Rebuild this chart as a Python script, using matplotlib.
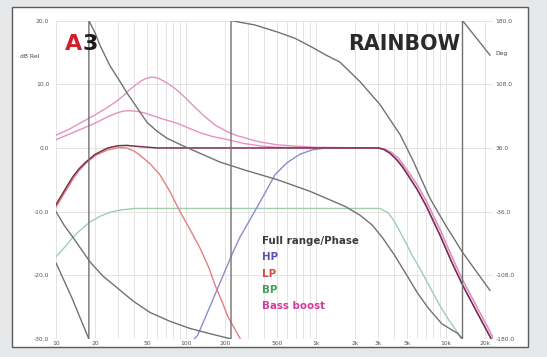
import matplotlib.pyplot as plt
from matplotlib.patches import Rectangle

W, H = 547, 357

# frequency response data (dB)
full_f = [10, 12, 13.5, 15, 17, 20, 25, 30, 35, 45, 60, 100, 300, 1000, 3000, 3300, 3700, 4200,
          4600, 5000, 6000, 7000, 9000, 11000, 13400, 17000, 21000, 23000]
full_db = [-8.9, -6.2, -4.5, -3.3, -2.2, -1.0, 0.0, 0.35, 0.4, 0.2, 0.0, 0.0, 0.0, 0.0, 0.0, -0.2,
           -0.8, -1.9, -2.9, -4.0, -6.5, -9.0, -13.7, -17.8, -21.5, -25.5, -29.0, -30.5]

lp_f = [10, 12, 13.5, 15, 17, 20, 25, 30, 35, 40, 44, 53, 63, 75, 90, 110, 128, 150, 167, 190, 210,
        240, 270]
lp_db = [-9.3, -6.6, -4.9, -3.6, -2.4, -1.2, -0.3, 0.05, 0.0, -0.5, -1.1, -2.5, -4.2, -6.8, -10.0,
         -13.2, -15.7, -18.8, -21.5, -24.2, -26.5, -28.6, -30.5]

hp_f = [105, 123, 150, 185, 225, 260, 300, 350, 400, 484, 600, 750, 935, 1200, 3000, 3300, 3700,
        4200, 4600, 5000, 6000, 7000, 9000, 11000, 13400, 17000, 21000, 23000]
hp_db = [-31.0, -29.4, -25.3, -20.9, -16.8, -14.0, -11.8, -9.4, -7.3, -4.2, -2.3, -1.0, -0.3, 0.0,
         0.0, -0.2, -0.8, -1.9, -2.9, -4.0, -6.5, -9.0, -13.7, -17.8, -21.5, -25.5, -29.0, -30.5]

bp_f = [10, 12, 13.5, 15, 18.3, 22, 26, 30, 40, 100, 1000, 3100, 3600, 4000, 4440, 5000, 5500,
        6250, 7500, 8900, 10500, 12200, 14000]
bp_db = [-17.1, -15.3, -14.0, -13.1, -11.6, -10.7, -10.1, -9.8, -9.5, -9.5, -9.5, -9.5, -10.2,
         -11.5, -13.2, -15.2, -16.9, -18.8, -21.8, -24.6, -27.0, -28.9, -31.0]

bb1_f = [10, 12.5, 15, 20, 25, 29.5, 33, 37, 41, 45, 49, 53, 57, 62, 70, 78, 85, 100, 117, 140,
         167, 190, 210, 250, 284, 330, 380, 500, 690, 1000, 3000, 3400, 3800, 4300, 5000, 6000,
         7000, 9000, 11000, 13400, 17000, 21000, 23000]
bb1_db = [2.0, 2.9, 3.8, 5.2, 6.4, 7.4, 8.2, 9.2, 9.9, 10.5, 10.9, 11.1, 11.1, 10.9, 10.3, 9.7,
          9.1, 7.8, 6.4, 4.9, 3.6, 3.0, 2.5, 1.9, 1.6, 1.2, 0.9, 0.5, 0.3, 0.1, 0.0, -0.2, -0.7,
          -1.6, -3.4, -5.8, -8.2, -12.8, -16.9, -20.7, -24.7, -28.2, -29.8]

bb2_f = [10, 15, 20, 25, 29.5, 33, 37, 42, 48, 53, 65, 85, 100, 128, 160, 210, 280, 380, 500, 1000,
         3000, 3400, 3800, 4300, 5000, 6000, 7000, 9000, 11000, 13400, 17000, 21000, 23000]
bb2_db = [1.3, 2.8, 3.9, 4.9, 5.5, 5.8, 5.85, 5.75, 5.5, 5.2, 4.6, 3.9, 3.3, 2.4, 1.8, 1.3, 0.7,
          0.3, 0.1, 0.0, 0.0, -0.2, -0.7, -1.6, -3.4, -5.8, -8.2, -12.8, -16.9, -20.7, -24.7,
          -28.2, -29.8]

# phase data (degrees), the repeated frequency is the wrap from -180 to 180
ph1_f = [10, 13.3, 17.9, 17.9, 20, 21.8, 26, 31.1, 35.2, 40.5, 50.1, 59.8, 71.5, 89.9, 107, 128,
         183, 284, 507, 899, 1670, 2180, 2700, 3270, 4050, 5000, 5980, 7300, 9320, 12400, 13400,
         13400, 17000, 21800]
ph1_deg = [-94, -134, -180, 180, 166, 152, 129, 111, 98, 85, 65, 55, 47, 40, 35, 30, 20, 11, 0,
           -13, -30, -40, -51, -66, -86, -108, -127, -145, -163, -174, -180, 180, 161, 141]

ph2_f = [10, 11.5, 13.5, 18.3, 23, 29.5, 39.1, 52.9, 75.3, 107, 153, 210, 222, 222, 340, 507, 689,
         930, 1194, 1530, 2180, 3110, 4440, 5570, 7530, 10000, 13400, 21800]
ph2_deg = [-36, -51, -65, -93, -109, -122, -137, -150, -160, -168, -174, -179, -180, 180, 175,
           167, 160, 150, 141, 133, 111, 85, 51, 22, -21, -52, -82, -125]

db_ticks = [20, 10, 0, -10, -20, -30]
db_labels = ['20.0', '10.0', '0.0', '-10.0', '-20.0', '-30.0']
deg_ticks = [180, 108, 36, -36, -108, -180]
deg_labels = ['180.0', '108.0', '36.0', '-36.0', '-108.0', '-180.0']
f_ticks = [10, 20, 50, 100, 200, 500, 1000, 2000, 3000, 5000, 10000, 20000]
f_labels = ['10', '20', '50', '100', '200', '500', '1k', '2k', '3k', '5k', '10k', '20k']

legend_names = ['Full range/Phase', 'HP', 'LP', 'BP', 'Bass boost']
legend_colors = ['#3a3a3a', '#5454b4', '#d44a4a', '#3f9f55', '#d43a9e']

fig = plt.figure(figsize=(W / 100, H / 100), dpi=100)
fig.patch.set_facecolor('#e5e7e9')
panel = Rectangle((12 / W, 1 - 347 / H), 516 / W, 340 / H, transform=fig.transFigure,
                  facecolor='white', edgecolor='#5a5a5a', lw=1.0, zorder=-1)
fig.patches.append(panel)

ax = fig.add_axes([56 / W, 1 - 339 / H, 437 / W, 318.4 / H])
ax.set_facecolor('none')
ax.set_xscale('log')
ax.set_xlim(10, 23000)
ax.set_ylim(-30, 20)
minor = [m * 10 ** e for e in range(1, 5) for m in range(1, 10) if m * 10 ** e <= 23000]
ax.set_xticks(minor, minor=True)
ax.set_xticks(f_ticks)
ax.set_xticklabels(f_labels)
ax.set_yticks(db_ticks)
ax.set_yticklabels(db_labels)
ax.grid(True, which='both', color='#e4e4e4', lw=0.7)
ax.tick_params(which='both', length=0, labelsize=4.3, colors='#555555')
ax.tick_params(axis='x', pad=1.5)
ax.tick_params(axis='y', pad=5)
for s in ax.spines.values():
    s.set_visible(False)

ax.plot(bp_f, bp_db, color='#a2cdb0', lw=1.0)
ax.plot(hp_f, hp_db, color='#8c8ccc', lw=1.0)
ax.plot(lp_f, lp_db, color='#e58080', lw=1.0)
ax.plot(bb1_f, bb1_db, color='#e592c2', lw=1.0)
ax.plot(bb2_f, bb2_db, color='#e592c2', lw=1.0)
ax.plot(full_f, full_db, color='#7e2c4c', lw=1.1)

ax2 = ax.twinx()
ax2.set_ylim(-180, 180)
ax2.set_yticks(deg_ticks)
ax2.set_yticklabels(deg_labels)
ax2.tick_params(length=0, labelsize=4.3, colors='#555555', pad=2)
for s in ax2.spines.values():
    s.set_visible(False)
ax2.plot(ph1_f, ph1_deg, color='#727272', lw=1.0)
ax2.plot(ph2_f, ph2_deg, color='#727272', lw=1.0)

fig.text(20 / W, 1 - 57 / H, 'dB Rel', fontsize=4.3, color='#444444', va='center')
fig.text(495 / W, 1 - 53 / H, 'Deg', fontsize=4.3, color='#444444', va='center')
fig.text(65 / W, 1 - 50 / H, 'A', fontsize=16, fontweight='bold', color='#d0202c', va='baseline')
fig.text(83 / W, 1 - 50 / H, '3', fontsize=16, fontweight='bold', color='#1a1a1a', va='baseline')
fig.text(348 / W, 1 - 50 / H, 'RAINBOW', fontsize=14.8, fontweight='bold', color='#2a2a2a',
         va='baseline')

for i, (name, c) in enumerate(zip(legend_names, legend_colors)):
    fig.text(262 / W, 1 - (241 + 16.3 * i) / H, name, fontsize=7.4, fontweight='bold',
             color=c, va='center')

fig.savefig('out.png', dpi=100, facecolor=fig.get_facecolor())
